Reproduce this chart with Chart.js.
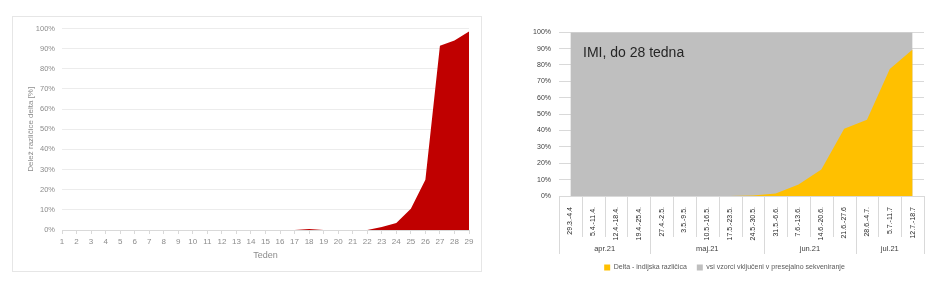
<!DOCTYPE html>
<html lang="sl">
<head>
  <meta charset="UTF-8" />
  <title>Delež različice delta</title>
  <script src="https://cdn.jsdelivr.net/npm/chart.js"></script>
  <style>
    body {
      margin: 0;
      width: 940px;
      height: 281px;
      background: #fff;
      position: relative;
      overflow: hidden;
      font-family: 'Liberation Sans', sans-serif;
    }
    #leftBox {
      position: absolute;
      left: 12px;
      top: 16px;
      width: 470px;
      height: 256px;
      border: 1px solid #e6e6e6;
      box-sizing: border-box;
    }
    #rightBox {
      position: absolute;
      left: 525px;
      top: 20px;
      width: 410px;
      height: 261px;
    }
  </style>
</head>
<body>
  <div id="leftBox"><canvas id="weekChart"></canvas></div>
  <div id="rightBox"><canvas id="imiChart"></canvas></div>
  <script>
    // levi graf: delež delta po tednih
    const weeks = ["1","2","3","4","5","6","7","8","9","10","11","12","13","14","15","16","17","18","19","20","21","22","23","24","25","26","27","28","29"];
    const deltaShare = [0,0,0,0,0,0,0,0,0,0,0,0,0,0,0,0,0,0.5,0,0,0,0,1.5,3.5,10.5,25,91.5,94,98.5];

    // desni graf: IMI
    const periods = ["29.3.-4.4","5.4.-11.4.","12.4.-18.4.","19.4.-25.4.","27.4.-2.5.","3.5.-9.5.","10.5.-16.5.","17.5.-23.5.","24.5.-30.5.","31.5.-6.6.","7.6.-13.6.","14.6.-20.6.","21.6.-27.6","28.6.-4.7.","5.7.-11.7","12.7.-18.7"];
    const imiDelta = [0,0,0,0,0,0,0,0,0.3,1.5,7,16.2,41,46.5,77.5,89.5];
    const imiAll = [100,100,100,100,100,100,100,100,100,100,100,100,100,100,100,100];
    const months = ["apr.21","maj.21","jun.21","jul.21"];
    const monthWeeks = [4,5,4,3];

    const pct = v => v + "%";

    new Chart(document.getElementById("weekChart"), {
      type: "line",
      data: {
        labels: weeks,
        datasets: [{
          label: "Delta",
          data: deltaShare,
          fill: "origin",
          backgroundColor: "#c00000",
          borderColor: "#c00000",
          borderWidth: 0,
          pointRadius: 0,
          tension: 0
        }]
      },
      options: {
        responsive: true,
        maintainAspectRatio: false,
        animation: false,
        layout: { padding: { left: 11, right: 12, top: 10, bottom: 0 } },
        plugins: { legend: { display: false }, tooltip: { enabled: false } },
        scales: {
          x: {
            grid: { drawOnChartArea: false, tickLength: 4, color: "#d9d9d9" },
            border: { color: "#d9d9d9" },
            ticks: { color: "#8c8c8c", font: { size: 8 }, padding: 3, maxRotation: 0, autoSkip: false },
            title: { display: true, text: "Teden", color: "#8c8c8c", font: { size: 9 }, padding: { top: 4, bottom: 10 } },
            afterFit: s => { s.height = 41; }
          },
          y: {
            min: 0,
            max: 100,
            grid: { color: "#ececec", drawTicks: false },
            border: { display: false },
            ticks: { stepSize: 10, callback: pct, color: "#8c8c8c", font: { size: 7.5 }, padding: 7 },
            title: { display: true, text: "Delež različice delta [%]", color: "#8c8c8c", font: { size: 8 }, padding: { top: 2, bottom: 0 } },
            afterFit: s => { s.width = 38; }
          }
        }
      }
    });

    // mesečne skupine pod kategorijami
    const monthGroups = {
      id: "monthGroups",
      afterDraw(chart) {
        const x = chart.scales.x;
        const ctx = chart.ctx;
        const half = (x.getPixelForValue(1) - x.getPixelForValue(0)) / 2;
        const inner = x.top + 41;
        ctx.save();
        ctx.strokeStyle = "#d9d9d9";
        ctx.lineWidth = 1;
        const ends = [];
        let n = 0;
        monthWeeks.forEach(w => { n += w; ends.push(n); });
        for (let i = 0; i <= periods.length; i++) {
          const px = Math.round(x.getPixelForValue(0) - half + i * half * 2) + 0.5;
          const full = i === 0 || ends.includes(i);
          ctx.beginPath();
          ctx.moveTo(px, x.top);
          ctx.lineTo(px, full ? x.bottom : inner);
          ctx.stroke();
        }
        ctx.fillStyle = "#404040";
        ctx.font = "7.5px 'Liberation Sans', sans-serif";
        ctx.textAlign = "center";
        ctx.textBaseline = "middle";
        let start = 0;
        months.forEach((m, k) => {
          const end = start + monthWeeks[k] - 1;
          const cx = (x.getPixelForValue(start) + x.getPixelForValue(end)) / 2;
          ctx.fillText(m, cx, x.bottom - 5);
          start = end + 1;
        });
        // oznaka v grafu
        const a = chart.chartArea;
        ctx.font = "14px 'Liberation Sans', sans-serif";
        ctx.textAlign = "left";
        ctx.fillStyle = "#262626";
        ctx.fillText("IMI, do 28 tedna", a.left + 24, a.top + 21);
        ctx.restore();
      }
    };

    new Chart(document.getElementById("imiChart"), {
      type: "line",
      data: {
        labels: periods,
        datasets: [{
          label: "Delta - indijska različica",
          data: imiDelta,
          fill: "origin",
          backgroundColor: "#ffc000",
          borderColor: "#ffc000",
          borderWidth: 0,
          pointRadius: 0
        }, {
          label: "vsi vzorci vključeni v presejalno sekveniranje",
          data: imiAll,
          fill: "origin",
          backgroundColor: "#bfbfbf",
          borderColor: "#bfbfbf",
          borderWidth: 0,
          pointRadius: 0
        }]
      },
      options: {
        responsive: true,
        maintainAspectRatio: false,
        animation: false,
        layout: { padding: { left: 0, right: 11, top: 9, bottom: 0 } },
        plugins: {
          tooltip: { enabled: false },
          legend: {
            position: "bottom",
            labels: { boxWidth: 6, boxHeight: 6, padding: 10, color: "#595959", font: { size: 7 } }
          }
        },
        scales: {
          x: {
            offset: true,
            grid: { display: false },
            border: { display: false },
            ticks: { minRotation: 90, maxRotation: 90, autoSkip: false, color: "#262626", font: { size: 7 }, padding: 3 },
            afterFit: s => { s.height = 58; }
          },
          y: {
            min: 0,
            max: 100,
            grid: { color: "#d9d9d9", drawTicks: false },
            border: { display: false },
            ticks: { stepSize: 10, callback: pct, color: "#404040", font: { size: 7 }, padding: 8 },
            afterFit: s => { s.width = 34; }
          }
        }
      },
      plugins: [monthGroups]
    });
  </script>
</body>
</html>
